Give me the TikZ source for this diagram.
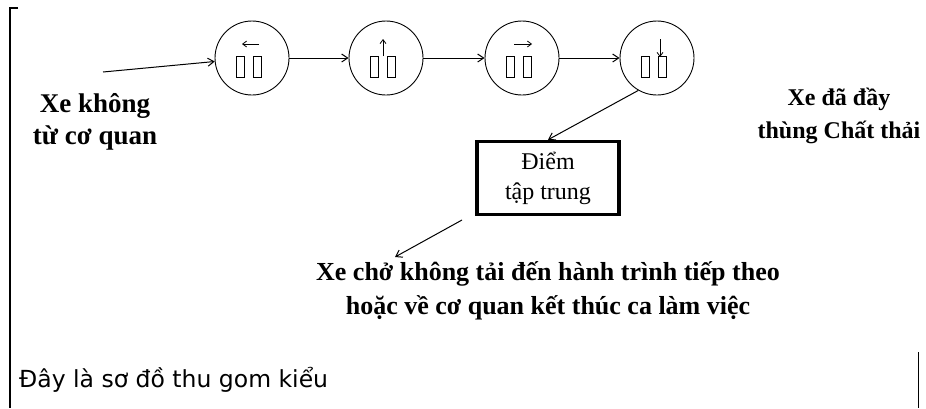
\documentclass[tikz,border=0pt]{standalone}
\usepackage{fontspec}
\setmainfont{Liberation Serif}
\newfontfamily\dejavu{DejaVu Sans}
\usetikzlibrary{arrows.meta}
\begin{document}
\begin{tikzpicture}[x=1pt,y=-1pt,
  st/.style={circle,draw,line width=0.9pt,minimum size=74pt,inner sep=0},
  ar/.style={-{Straight Barb[length=6pt,width=8pt]},line width=1pt},
  inar/.style={-{Straight Barb[length=4pt,width=6pt]},line width=0.8pt},
  lab/.style={align=center},
  small/.style={draw,line width=0.9pt,minimum width=8pt,minimum height=21pt,inner sep=0}]
\useasboundingbox (0,0) rectangle (926,408);
\draw[line width=1.5pt] (18,8) -- (10,8) -- (10,408);
\draw[line width=1pt] (918,352) -- (918,408);
\foreach \i/\x in {1/252,2/386,3/522,4/657}{
  \node[st] (c\i) at (\x,58) {};
  \node[small] (l\i) at (\x-12,67) {};
  \node[small] (r\i) at (\x+5,67) {};
}
\draw[inar] (c1.center)++(7,-14) coordinate (a1s) -- ++(-17,0) coordinate (a1e);
\draw[inar] (c2.center)++(-3,-2) coordinate (a2s) -- ++(0,-17) coordinate (a2e);
\draw[inar] (c3.center)++(-8,-14) coordinate (a3s) -- ++(18,0) coordinate (a3e);
\draw[inar] (c4.center)++(3,-19) coordinate (a4s) -- ++(0,18) coordinate (a4e);
\coordinate (in) at (103,72);
\draw[ar] (in) -- (c1);
\draw[ar] (c1) -- (c2);
\draw[ar] (c2) -- (c3);
\draw[ar] (c3) -- (c4);
\node[draw,line width=3.5pt,minimum width=142pt,minimum height=73pt,align=center,
  font=\fontsize{24}{30}\selectfont] (box) at (548,178) {Điểm\\tập trung};
\draw[ar] (c4.240) -- (box.north);
\coordinate (out) at (395,257);
\draw[ar] (462,220) coordinate (os) -- (out);
\node[lab,font=\fontsize{27}{32}\selectfont\bfseries] (t1) at (95,122) {Xe không\\từ cơ quan};
\node[lab,font=\fontsize{24}{33}\selectfont\bfseries] (t2) at (839,116) {Xe đã đầy\\thùng Chất thải};
\node[lab,font=\fontsize{26}{34}\selectfont\bfseries] (t3) at (548,291) {Xe chở không tải đến hành trình tiếp theo\\hoặc về cơ quan kết thúc ca làm việc};
\node[anchor=west,inner sep=0,font=\dejavu\fontsize{23.5}{28}\selectfont] (t4) at (19,380) {Đây là sơ đồ thu gom kiểu};
\end{tikzpicture}
\end{document}
